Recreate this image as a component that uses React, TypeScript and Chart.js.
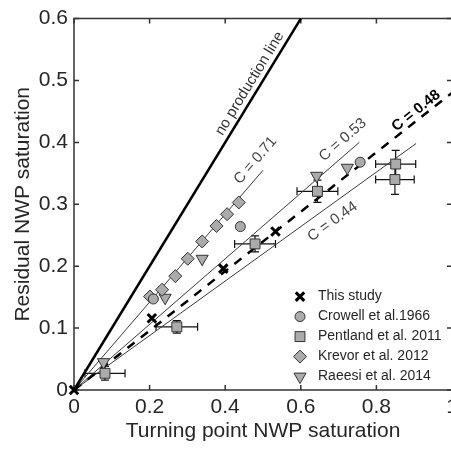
import React, { useEffect, useRef } from 'react';
import { Chart, registerables } from 'chart.js';
import { drawPoint } from 'chart.js/helpers';

Chart.register(...registerables);

// ---- data ----
const thisStudyX = [0, 0.206, 0.395, 0.533];
const thisStudyY = [0, 0.116, 0.196, 0.256];
const crowellX = [0.21, 0.44, 0.757];
const crowellY = [0.147, 0.264, 0.368];
const pentlandX = [0.082, 0.272, 0.479, 0.644, 0.851, 0.849];
const pentlandY = [0.027, 0.102, 0.236, 0.321, 0.365, 0.34];
const pentlandXErr = [0.053, 0.055, 0.054, 0.054, 0.053, 0.051];
const pentlandYErr = [0.011, 0.01, 0.013, 0.018, 0.022, 0.024];
const krevorX = [0.201, 0.233, 0.268, 0.301, 0.339, 0.377, 0.405, 0.436];
const krevorY = [0.151, 0.162, 0.184, 0.212, 0.24, 0.265, 0.284, 0.303];
const raeesiX = [0.078, 0.241, 0.339, 0.642, 0.723];
const raeesiY = [0.045, 0.149, 0.212, 0.346, 0.359];

const refLineNames = ['no production line', 'C = 0.71', 'C = 0.53', 'C = 0.48', 'C = 0.44'];
const refLineSlopes = [1, 0.71, 0.53, 0.48, 0.44];
const refLineEndX = [0.6, 0.5, 0.755, 1, 0.905];

const xTicks = [0, 0.2, 0.4, 0.6, 0.8, 1];
const yTicks = [0, 0.1, 0.2, 0.3, 0.4, 0.5, 0.6];

// ---- styling / annotation placement ----
const FONT = "'Liberation Sans', Arial, Helvetica, sans-serif";
const TEXT = '#262626';
const AXIS = '#333333';
const FILL = '#ababab';
const EDGE = '#333333';

const refLineStyles = [
  { color: '#000000', width: 2.5, dash: [] as number[], labelColor: '#333', bold: false },
  { color: '#3a3a3a', width: 1, dash: [], labelColor: '#444', bold: false },
  { color: '#3a3a3a', width: 1, dash: [], labelColor: '#444', bold: false },
  { color: '#000000', width: 2.5, dash: [9, 8], labelColor: '#000', bold: true },
  { color: '#3a3a3a', width: 1, dash: [], labelColor: '#444', bold: false },
];
const refLabelAt = [
  [0.465, 0.495],
  [0.48, 0.371],
  [0.711, 0.404],
  [0.905, 0.451],
  [0.684, 0.272],
];

const pts = (xs: number[], ys: number[]) => xs.map((x, i) => ({ x, y: ys[i] }));

const seriesDefs = [
  { label: 'This study', xs: thisStudyX, ys: thisStudyY, style: 'crossRot', r: 6, bw: 3, bg: '#000', bc: '#000', rot: 0 },
  { label: 'Crowell et al.1966', xs: crowellX, ys: crowellY, style: 'circle', r: 5, bw: 1, bg: FILL, bc: EDGE, rot: 0 },
  { label: 'Pentland et al. 2011', xs: pentlandX, ys: pentlandY, style: 'rect', r: 7, bw: 1, bg: FILL, bc: EDGE, rot: 0 },
  { label: 'Krevor et al. 2012', xs: krevorX, ys: krevorY, style: 'rectRot', r: 6.5, bw: 1, bg: FILL, bc: EDGE, rot: 0 },
  { label: 'Raeesi et al. 2014', xs: raeesiX, ys: raeesiY, style: 'triangle', r: 7, bw: 1, bg: FILL, bc: EDGE, rot: 180 },
];

const decorPlugin = {
  id: 'decor',
  beforeDatasetsDraw(chart: any) {
    const { ctx, scales, chartArea } = chart;
    const x = scales.x;
    const y = scales.y;
    ctx.save();
    // axes box
    ctx.strokeStyle = AXIS;
    ctx.lineWidth = 1.5;
    ctx.beginPath();
    ctx.rect(chartArea.left, chartArea.top, chartArea.right - chartArea.left, chartArea.bottom - chartArea.top);
    ctx.stroke();
    // inward ticks
    const tl = 5;
    ctx.lineWidth = 1.5;
    ctx.beginPath();
    xTicks.forEach((v) => {
      const px = x.getPixelForValue(v);
      ctx.moveTo(px, chartArea.bottom);
      ctx.lineTo(px, chartArea.bottom - tl);
      ctx.moveTo(px, chartArea.top);
      ctx.lineTo(px, chartArea.top + tl);
    });
    yTicks.forEach((v) => {
      const py = y.getPixelForValue(v);
      ctx.moveTo(chartArea.left, py);
      ctx.lineTo(chartArea.left + tl, py);
      ctx.moveTo(chartArea.right, py);
      ctx.lineTo(chartArea.right - tl, py);
    });
    ctx.stroke();
    // error bars
    ctx.strokeStyle = '#111';
    ctx.lineWidth = 1.2;
    const cap = 4;
    pentlandX.forEach((vx, i) => {
      const vy = pentlandY[i];
      const cx = x.getPixelForValue(vx);
      const cy = y.getPixelForValue(vy);
      const x0 = x.getPixelForValue(vx - pentlandXErr[i]);
      const x1 = x.getPixelForValue(vx + pentlandXErr[i]);
      const y0 = y.getPixelForValue(vy - pentlandYErr[i]);
      const y1 = y.getPixelForValue(vy + pentlandYErr[i]);
      ctx.beginPath();
      ctx.moveTo(x0, cy); ctx.lineTo(x1, cy);
      ctx.moveTo(x0, cy - cap); ctx.lineTo(x0, cy + cap);
      ctx.moveTo(x1, cy - cap); ctx.lineTo(x1, cy + cap);
      ctx.moveTo(cx, y0); ctx.lineTo(cx, y1);
      ctx.moveTo(cx - cap, y0); ctx.lineTo(cx + cap, y0);
      ctx.moveTo(cx - cap, y1); ctx.lineTo(cx + cap, y1);
      ctx.stroke();
    });
    ctx.restore();
  },
  afterDatasetsDraw(chart: any) {
    const { ctx, scales, chartArea } = chart;
    const x = scales.x;
    const y = scales.y;
    ctx.save();
    // reference line labels
    refLineNames.forEach((name, i) => {
      const st = refLineStyles[i];
      const dx = x.getPixelForValue(1) - x.getPixelForValue(0);
      const dy = y.getPixelForValue(refLineSlopes[i]) - y.getPixelForValue(0);
      const ang = Math.atan2(dy, dx);
      const px = x.getPixelForValue(refLabelAt[i][0]);
      const py = y.getPixelForValue(refLabelAt[i][1]);
      ctx.save();
      ctx.translate(px, py);
      ctx.rotate(ang);
      ctx.fillStyle = st.labelColor;
      ctx.font = `${st.bold ? 'bold ' : ''}15px ${FONT}`;
      ctx.textAlign = 'center';
      ctx.textBaseline = 'middle';
      ctx.fillText(name, 0, 0);
      ctx.restore();
    });
    // legend
    const lx = chartArea.left + 226;
    const ly0 = chartArea.top + 278;
    seriesDefs.forEach((s, i) => {
      const yy = ly0 + i * 20;
      ctx.save();
      ctx.fillStyle = s.bg;
      ctx.strokeStyle = s.bc;
      ctx.lineWidth = s.bw;
      drawPoint(ctx, { pointStyle: s.style, radius: s.r, rotation: s.rot, borderWidth: s.bw } as any, lx, yy);
      ctx.restore();
      ctx.fillStyle = TEXT;
      ctx.font = `14px ${FONT}`;
      ctx.textAlign = 'left';
      ctx.textBaseline = 'middle';
      ctx.fillText(s.label, lx + 18, yy);
    });
    ctx.restore();
  },
};

export default function App() {
  const ref = useRef<HTMLCanvasElement | null>(null);
  useEffect(() => {
    if (!ref.current) return;
    const scatterSets = seriesDefs.map((s) => ({
      type: 'scatter' as const,
      label: s.label,
      data: pts(s.xs, s.ys),
      pointStyle: s.style,
      pointRadius: s.r,
      pointBorderWidth: s.bw,
      pointBackgroundColor: s.bg,
      pointBorderColor: s.bc,
      pointRotation: s.rot,
      showLine: false,
      clip: false as any,
    }));
    const lineSets = refLineNames.map((name, i) => ({
      type: 'line' as const,
      label: name,
      data: [
        { x: 0, y: 0 },
        { x: refLineEndX[i], y: refLineSlopes[i] * refLineEndX[i] },
      ],
      borderColor: refLineStyles[i].color,
      borderWidth: refLineStyles[i].width,
      borderDash: refLineStyles[i].dash,
      pointRadius: 0,
      fill: false,
      tension: 0,
      clip: false as any,
    }));
    const chart = new Chart(ref.current, {
      type: 'scatter',
      data: { datasets: [...scatterSets, ...lineSets] as any },
      plugins: [decorPlugin],
      options: {
        responsive: false,
        animation: false,
        events: [],
        layout: { padding: { top: 13, right: 28, left: 0, bottom: 0 } },
        plugins: { legend: { display: false }, tooltip: { enabled: false } },
        scales: {
          x: {
            type: 'linear',
            min: 0,
            max: 1,
            grid: { display: false, drawTicks: false },
            border: { display: false },
            afterBuildTicks: (s: any) => { s.ticks = xTicks.map((v) => ({ value: v })); },
            afterFit: (s: any) => { s.height = 59; },
            ticks: {
              autoSkip: false,
              maxRotation: 0,
              padding: 5,
              color: TEXT,
              font: { family: FONT, size: 21 },
              callback: (v: any) => String(Math.round(Number(v) * 10) / 10),
            },
            title: {
              display: true,
              text: 'Turning point NWP saturation',
              color: TEXT,
              font: { family: FONT, size: 21 },
              padding: { top: 0, bottom: 5 },
            },
          },
          y: {
            type: 'linear',
            min: 0,
            max: 0.6,
            grid: { display: false, drawTicks: false },
            border: { display: false },
            afterBuildTicks: (s: any) => { s.ticks = yTicks.map((v) => ({ value: v })); },
            afterFit: (s: any) => { s.width = 74; },
            ticks: {
              autoSkip: false,
              padding: 6,
              color: TEXT,
              font: { family: FONT, size: 21 },
              callback: (v: any) => String(Math.round(Number(v) * 10) / 10),
            },
            title: {
              display: true,
              text: 'Residual NWP saturation',
              color: TEXT,
              font: { family: FONT, size: 21 },
              padding: { top: 11, bottom: 0 },
            },
          },
        },
      } as any,
    });
    return () => chart.destroy();
  }, []);

  return (
    <div style={{ position: 'fixed', left: 0, top: 0, width: 451, height: 449, overflow: 'hidden', background: '#fff' }}>
      <canvas ref={ref} width={480} height={449} style={{ display: 'block', width: 480, height: 449 }} />
    </div>
  );
}
